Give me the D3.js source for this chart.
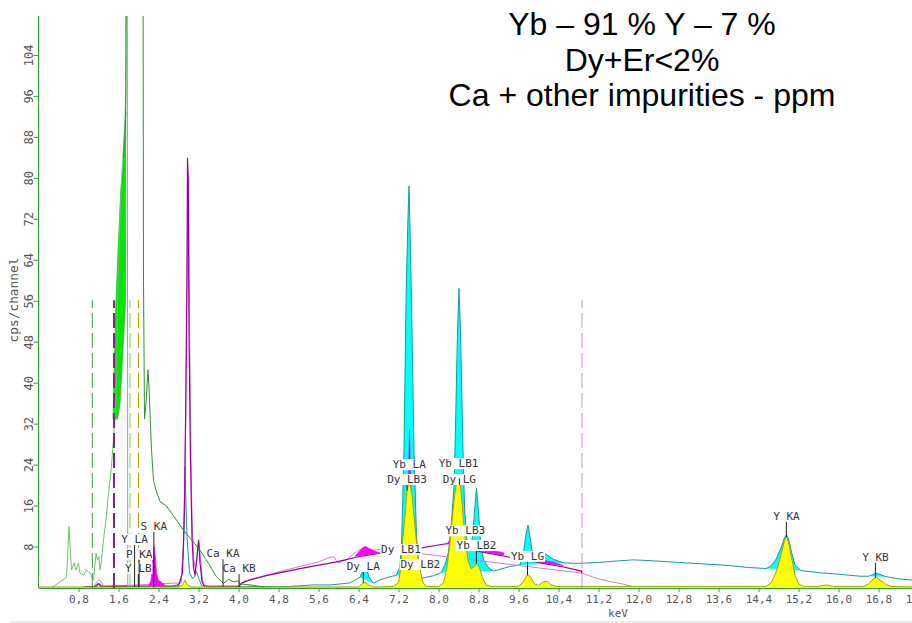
<!DOCTYPE html>
<html>
<head>
<meta charset="utf-8">
<script src="https://cdn.jsdelivr.net/npm/d3@7"></script>
<style>
  body { margin: 0; background: #fff; }
  svg { display: block; }
</style>
</head>
<body>
<svg></svg>
<script>
// axis ticks (keV / cps)
const xTicks = [0.8, 1.6, 2.4, 3.2, 4.0, 4.8, 5.6, 6.4, 7.2, 8.0, 8.8, 9.6, 10.4, 11.2, 12.0, 12.8, 13.6, 14.4, 15.2, 16.0, 16.8, 17.6];
const yTicks = [8, 16, 24, 32, 40, 48, 56, 64, 72, 80, 88, 96, 104];

const titleLines = ['Yb \u2013 91 % Y \u2013 7 %', 'Dy+Er<2%', 'Ca + other impurities - ppm'];

// [keV, cps]
const greenLight = [[0.26, 0], [0.43, 1.2], [0.56, 2], [0.61, 12], [0.64, 6.8], [0.66, 3.5], [0.71, 4.9], [0.75, 3.5], [0.8, 4.9],
  [0.83, 2.9], [0.9, 2.5], [0.96, 3.5], [1.03, 2.9], [1.1, 1.6], [1.15, 6.8], [1.18, 5.5], [1.21, 6.1], [1.23, 3.5], [1.26, 5.5],
  [1.3, 9.4], [1.35, 13.3], [1.4, 18.5], [1.46, 23.7], [1.53, 33.5], [1.56, 40], [1.58, 55], [1.61, 66], [1.64, 76], [1.67, 81],
  [1.7, 86], [1.73, 92], [1.75, 98], [1.76, 130], [1.775, 130], [1.785, 0.4], [2.05, 0.4]];
const greenDark = [[1.7, 84], [1.73, 89], [1.745, 94], [1.755, 130], [2.09, 130], [2.1, 60], [2.12, 33], [2.15, 36], [2.19, 42.6],
  [2.21, 39], [2.26, 27], [2.3, 21], [2.36, 18.8], [2.43, 16.9], [2.56, 16], [2.9, 11.3], [3.23, 7.4], [3.4, 4.8], [3.56, 2.2],
  [3.7, 0.9], [3.8, 1.7], [3.9, 1.2], [4.0, 1.4], [4.03, 0.8], [4.23, 0.6], [4.5, 0.2]];
const greenBright = [[1.49, 33], [1.52, 45], [1.55, 56], [1.6, 68], [1.65, 78], [1.7, 84], [1.73, 88], [1.745, 93], [1.74, 56],
  [1.68, 45], [1.63, 36], [1.58, 33]];

const purpleDark = [[0.9, 0.2], [1.15, 0.3], [1.2, 0.8], [1.25, 0.3], [2.8, 0.4], [2.88, 3], [2.92, 15], [2.95, 40], [2.97, 62],
  [2.98, 84], [2.995, 80], [3.01, 50], [3.04, 25], [3.07, 10], [3.1, 4], [3.13, 2.5], [3.17, 6], [3.2, 9.4], [3.23, 5], [3.27, 1.2],
  [3.32, 0.3], [4.0, 0.3], [4.08, 1], [4.23, 1.6], [4.6, 2.5], [5.23, 3.8], [5.96, 5.1], [6.4, 6.1], [6.83, 6.8], [7.3, 7.6],
  [7.63, 7.8], [8.0, 8.4], [8.27, 8.8], [8.45, 8.2], [8.83, 7.1], [9.43, 6], [9.77, 5.5], [10.2, 4.6], [10.5, 4.1], [10.86, 3.3],
  [10.87, 2.9]];
const purpleLight = [[1.1, 0.2], [1.17, 1.2], [1.21, 1.6], [1.25, 1.2], [1.3, 0.3], [2.85, 1], [2.9, 8], [2.94, 30], [2.97, 60],
  [2.99, 79], [3.005, 72], [3.02, 55], [3.04, 30], [3.07, 14], [3.1, 6], [3.14, 3.5], [3.18, 7.5], [3.21, 9], [3.24, 6], [3.28, 1.5],
  [3.35, 0.3], [4.0, 0.3], [4.1, 1.3], [4.6, 2.6], [5.1, 3.9], [5.6, 5.1], [5.83, 6], [5.9, 6.1], [5.99, 4.9], [6.16, 5.5],
  [6.36, 7.1], [6.53, 8.1], [6.7, 7.4], [6.9, 7.6], [10.87, 2.9], [11.16, 1.9], [11.4, 1.3], [11.63, 0.9], [11.96, 0.1], [12.1, 0]];
const magentaAreas = [
  [[2.2, 0.3], [2.25, 1.5], [2.28, 5], [2.3, 7.5], [2.31, 8.1], [2.33, 7], [2.36, 3], [2.4, 1.5], [2.45, 1.2], [2.5, 0.8], [2.55, 0.3]],
  [[6.33, 6.2], [6.45, 7.5], [6.53, 8.1], [6.62, 7.6], [6.83, 6.8]],
  [[7.33, 7.6], [7.37, 12], [7.4, 22], [7.42, 31], [7.44, 22], [7.47, 12], [7.51, 7.7]],
  [[8.17, 8.6], [8.24, 9.6], [8.3, 11], [8.34, 9.5], [8.38, 8.5]],
  [[8.8, 7.8], [9.0, 7.5], [9.3, 6.9], [9.3, 6.4], [9.0, 6.9], [8.85, 7.2]],
  [[9.76, 5.9], [10.0, 5.6], [10.3, 5.0], [10.5, 4.4], [10.3, 4.6], [10.0, 5.1], [9.8, 5.4]]
];

// teal total line outside the fitted peaks, and the cyan peaks
const cyanBase = [[0.9, 0.2], [1.12, 0.3], [1.18, 0.8], [1.22, 0.9], [1.27, 0.3], [2.7, 0.3], [2.85, 1], [2.9, 8], [2.93, 23.7],
  [2.97, 10], [3.02, 3], [3.08, 1.8], [3.12, 2.2], [3.16, 3.2], [3.2, 2], [3.26, 0.5], [3.4, 0.3], [5.0, 0.3], [5.5, 0.6], [5.83, 0.6],
  [6.05, 0.8], [6.23, 1], [6.83, 1.6], [7.03, 2.2], [7.9, 2.4], [9.43, 4.2], [10.8, 4.8], [11.2, 5.0], [11.6, 5.3], [11.9, 5.5],
  [12.3, 5.3], [12.8, 5.0], [13.3, 4.7], [13.8, 4.4], [14.2, 4.0], [15.6, 3.0], [16.0, 2.7], [16.43, 2.3], [17.2, 1.8], [17.47, 1.55],
  [17.7, 1.4]];
const cyanPeaks = [
  [[6.43, 2.1], [6.47, 3], [6.5, 3.8], [6.53, 4.0], [6.57, 3.3], [6.62, 2], [6.7, 0.9]],
  [[7.16, 2.5], [7.22, 4], [7.26, 8], [7.31, 27], [7.35, 56], [7.385, 71], [7.41, 78.5], [7.43, 70], [7.46, 56], [7.51, 27],
    [7.56, 10], [7.61, 4], [7.66, 1.9]],
  [[8.05, 3], [8.13, 4.5], [8.2, 7], [8.26, 13], [8.31, 20], [8.33, 27], [8.38, 50], [8.41, 58.5], [8.44, 50], [8.49, 27],
    [8.52, 16], [8.56, 10], [8.6, 7.5], [8.64, 7.6], [8.68, 10], [8.72, 15], [8.76, 19.5], [8.8, 15], [8.84, 9], [8.9, 5.5],
    [9.0, 4], [9.1, 3.3]],
  [[9.63, 4.5], [9.7, 7], [9.75, 10.5], [9.79, 12.3], [9.83, 10], [9.87, 7.3], [9.93, 7], [10.05, 7], [10.15, 6.6], [10.3, 5.6],
    [10.5, 4.9]],
  [[14.55, 3.8], [14.65, 4.3], [14.75, 5.6], [14.85, 7.8], [14.92, 9.8], [14.96, 10.4], [15.0, 9.6], [15.06, 7], [15.13, 4.5],
    [15.25, 3.4]],
  [[16.6, 2.3], [16.68, 2.6], [16.75, 2.9], [16.82, 2.7], [16.95, 2.2]]
];

const yellowSpectrum = [[0, 0.2], [2.8, 0.2], [2.88, 0.6], [2.93, 1.5], [2.98, 0.6], [3.05, 0.2], [6.4, 0.2], [6.48, 0.9], [6.53, 1.1],
  [6.6, 0.6], [6.7, 0.2], [7.1, 0.3], [7.2, 1], [7.24, 3.5], [7.29, 10], [7.33, 14], [7.37, 19], [7.42, 21], [7.47, 18], [7.52, 13],
  [7.56, 9], [7.6, 5], [7.63, 3.8], [7.68, 1.2], [7.75, 0.3], [8.0, 0.3], [8.1, 1], [8.17, 4], [8.22, 8], [8.27, 13], [8.32, 18],
  [8.37, 21], [8.41, 22], [8.45, 19], [8.5, 13], [8.55, 8], [8.6, 5], [8.65, 3.8], [8.7, 4], [8.76, 4.8], [8.82, 4], [8.88, 2],
  [8.95, 0.6], [9.05, 0.3], [9.6, 0.3], [9.7, 1.2], [9.76, 2.4], [9.8, 2.6], [9.85, 2], [9.92, 0.8], [10.0, 0.5], [10.1, 1.2],
  [10.18, 1.3], [10.25, 0.6], [10.35, 0.3], [14.55, 0.3], [14.65, 1], [14.75, 3], [14.85, 6.5], [14.92, 9.3], [14.96, 10], [15.0, 9],
  [15.06, 6], [15.13, 2.5], [15.2, 0.8], [15.3, 0.3], [15.6, 0.3], [15.76, 0.6], [15.9, 0.3], [16.5, 0.3], [16.6, 0.8], [16.7, 1.8],
  [16.76, 2.1], [16.85, 1.4], [16.95, 0.7], [17.05, 0.3], [17.7, 0.2]];

// region-of-interest markers (keV) and their height (cps)
const roiEnergies = [1.076, 1.51, 1.83, 2.0, 10.87];
const roiHeight = 56.2;

// [text, keV, label height cps, draw marker]
const lineLabels = [
  ['Y LA', 1.922, 8.8, true], ['P KA', 2.013, 5.9, true], ['Y LB', 1.996, 3.1, true], ['S KA', 2.307, 11.3, true],
  ['Ca KA', 3.69, 6.0, true], ['Ca KB', 4.012, 3.1, true], ['Dy LA', 6.495, 3.5, true],
  ['Dy LB1', 7.248, 6.8, false], ['Dy LB2', 7.636, 3.9, true],
  ['Yb LA', 7.415, 23.4, false], ['Dy LB3', 7.37, 20.5, true],
  ['Yb LB1', 8.402, 23.6, false], ['Dy LG', 8.418, 20.5, true],
  ['Yb LB3', 8.536, 10.5, false], ['Yb LB2', 8.758, 7.6, true], ['Yb LG', 9.78, 5.5, true],
  ['Y KA', 14.958, 13.3, true], ['Y KB', 16.738, 5.3, true]
];

const W = 912, H = 623;
const svg = d3.select('svg').attr('width', W).attr('height', H);
const x = d3.scaleLinear().domain([0, 17.47]).range([38.5, 912]);
const y = d3.scaleLinear().domain([0, 111.7]).range([588, 16]);
const mono = "'DejaVu Sans Mono', monospace";
const axisGreen = '#2f9f2f';

svg.append('defs').append('clipPath').attr('id', 'plot')
  .append('rect').attr('x', 38.5).attr('y', 16).attr('width', W - 38.5).attr('height', 572);

const line = d3.line().x(d => x(d[0])).y(d => y(d[1]));
const area = d3.area().x(d => x(d[0])).y0(y(0)).y1(d => y(d[1]));
const plot = svg.append('g').attr('clip-path', 'url(#plot)');

// cyan peak fills, teal total line
cyanPeaks.forEach(p => {
  plot.append('path').attr('d', line(p) + 'Z').attr('fill', '#00ffff').attr('stroke', 'none');
});
const tealLine = cyanBase.filter(b => !cyanPeaks.some(p => b[0] > p[0][0] && b[0] < p[p.length - 1][0]))
  .concat(...cyanPeaks).sort((a, b) => a[0] - b[0]);
plot.append('path').attr('d', line(tealLine)).attr('fill', 'none').attr('stroke', '#1a9a9a').attr('stroke-width', 1);

// purple spectra
plot.append('path').attr('d', line(purpleLight)).attr('fill', 'none').attr('stroke', '#cc80cc').attr('stroke-width', 1);
plot.append('path').attr('d', line(purpleDark)).attr('fill', 'none').attr('stroke', '#990099').attr('stroke-width', 1.2);
magentaAreas.forEach(p => {
  plot.append('path').attr('d', line(p) + 'Z').attr('fill', '#ff00ff').attr('stroke', '#dd00dd').attr('stroke-width', 0.6);
});

// yellow spectrum
plot.append('path').attr('d', area(yellowSpectrum)).attr('fill', '#ffff00').attr('stroke', 'none');
plot.append('path').attr('d', line(yellowSpectrum)).attr('fill', 'none').attr('stroke', '#a8a000').attr('stroke-width', 1);

// green spectra
plot.append('path').attr('d', line(greenBright) + 'Z').attr('fill', '#00e800').attr('stroke', '#30b030').attr('stroke-width', 0.8);
plot.append('path').attr('d', line(greenLight)).attr('fill', 'none').attr('stroke', '#70c070').attr('stroke-width', 1);
plot.append('path').attr('d', line(greenDark)).attr('fill', 'none').attr('stroke', '#309030').attr('stroke-width', 1);

// ROI dashed markers
const roiColors = ['#33a033', '#882288', '#77c777', '#b0a000', '#cc88cc'];
roiEnergies.forEach((e, i) => {
  plot.append('line').attr('x1', x(e)).attr('x2', x(e)).attr('y1', y(0)).attr('y2', y(roiHeight))
    .attr('stroke', roiColors[i]).attr('stroke-width', i === 1 ? 2 : 1).attr('stroke-dasharray', '15,5');
});

// axes
const xAxis = svg.append('g').attr('transform', `translate(0,${y(0)})`)
  .call(d3.axisBottom(x).tickValues(xTicks).tickSize(4).tickSizeOuter(0).tickPadding(3)
    .tickFormat(d => d3.format('.1f')(d).replace('.', ',')));
xAxis.select('.domain').attr('stroke', axisGreen);
xAxis.selectAll('.tick line').attr('stroke', axisGreen);
xAxis.selectAll('text').attr('fill', '#555').attr('font-family', mono).attr('font-size', 11);

svg.append('line').attr('x1', 38.5).attr('x2', 38.5).attr('y1', y(0)).attr('y2', 16).attr('stroke', axisGreen);
yTicks.forEach(t => {
  svg.append('line').attr('x1', 33.5).attr('x2', 38.5).attr('y1', y(t)).attr('y2', y(t)).attr('stroke', axisGreen);
  svg.append('text').attr('transform', `translate(33,${y(t)}) rotate(-90)`).attr('text-anchor', 'middle')
    .attr('fill', '#555').attr('font-family', mono).attr('font-size', 12).text(t);
});
svg.append('text').attr('transform', 'translate(18,300) rotate(-90)').attr('text-anchor', 'middle')
  .attr('fill', '#555').attr('font-family', mono).attr('font-size', 12.8).text('cps/channel');
svg.append('text').attr('x', 618).attr('y', 617).attr('text-anchor', 'middle')
  .attr('fill', '#555').attr('font-family', mono).attr('font-size', 11).text('keV');

// line labels
const yellowAt = e => {
  const i = d3.bisector(d => d[0]).left(yellowSpectrum, e);
  const a = yellowSpectrum[i - 1], b = yellowSpectrum[i];
  return a[1] + (b[1] - a[1]) * (e - a[0]) / (b[0] - a[0]);
};
const lbl = svg.append('g').attr('font-family', mono).attr('font-size', 11);
lineLabels.forEach(([t, e, h]) => {
  const w = t.length * 6.6;
  lbl.append('rect').attr('x', x(e) - w / 2 - 1).attr('y', y(h) - 9).attr('width', w + 2).attr('height', 11).attr('fill', '#fff');
});
lineLabels.forEach(([t, e, h, m]) => {
  if (m) lbl.append('line').attr('x1', x(e)).attr('x2', x(e)).attr('y1', y(h) + 2).attr('y2', y(yellowAt(e)))
    .attr('stroke', '#222').attr('stroke-width', 1);
});
lineLabels.forEach(([t, e, h]) => {
  lbl.append('text').attr('x', x(e)).attr('y', y(h)).attr('text-anchor', 'middle').attr('fill', '#333').text(t);
});

// title
const title = svg.append('g').attr('font-family', "'Liberation Sans', Arial, sans-serif").attr('font-size', 32).attr('fill', '#000');
titleLines.forEach((t, i) => {
  title.append('text').attr('x', 642).attr('y', 35 + i * 35.5).attr('text-anchor', 'middle').text(t);
});

svg.append('rect').attr('x', 11).attr('y', 621).attr('width', W - 11).attr('height', 2).attr('fill', '#ebebeb');
</script>
</body>
</html>
